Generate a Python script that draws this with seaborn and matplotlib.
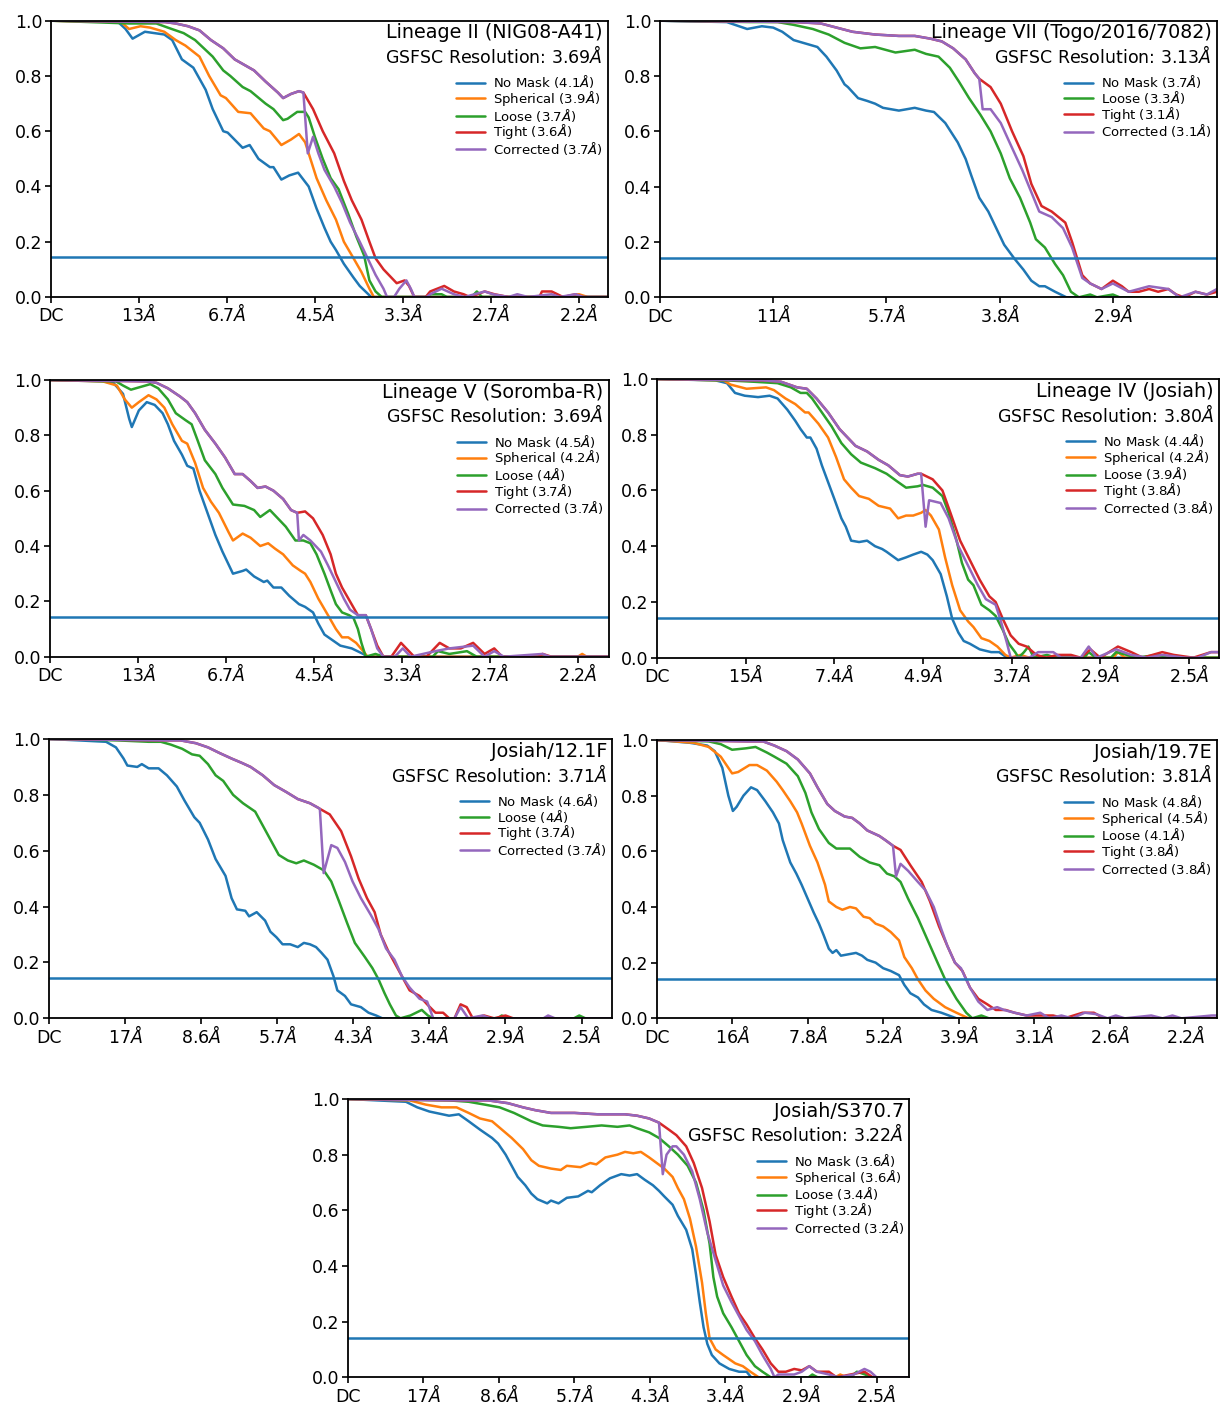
import matplotlib
matplotlib.use("Agg")
import matplotlib.pyplot as plt
import pandas as pd
import seaborn as sns

# FSC curves. x = position in tick steps from DC, y = FSC.

# ---- Lineage II (NIG08-A41) ----
p1_ticks = ["DC", "13", "6.7", "4.5", "3.3", "2.7", "2.2"]
p1_xmax = 6.33
p1_nomask = [(0, 1.0), (0.75, 1.0), (0.85, 0.97), (0.93, 0.935), (1.07, 0.96), (1.29, 0.95), (1.38, 0.93),
             (1.49, 0.86), (1.62, 0.83), (1.76, 0.75), (1.84, 0.68), (1.96, 0.60), (2.01, 0.595), (2.18, 0.54),
             (2.26, 0.55), (2.36, 0.50), (2.49, 0.47), (2.53, 0.47), (2.62, 0.425), (2.71, 0.44), (2.81, 0.45),
             (2.93, 0.40), (3.02, 0.32), (3.11, 0.25), (3.18, 0.20), (3.24, 0.17), (3.33, 0.12), (3.44, 0.07),
             (3.51, 0.04), (3.64, 0.0), (6.33, 0.0)]
p1_spherical = [(0, 1.0), (0.8, 0.995), (0.89, 0.97), (1.02, 0.98), (1.13, 0.975), (1.29, 0.96), (1.42, 0.93),
                (1.53, 0.91), (1.69, 0.87), (1.80, 0.80), (1.93, 0.73), (1.99, 0.72), (2.13, 0.67), (2.27, 0.665),
                (2.42, 0.61), (2.49, 0.60), (2.62, 0.55), (2.73, 0.57), (2.82, 0.59), (2.89, 0.56), (2.93, 0.52),
                (3.02, 0.43), (3.13, 0.35), (3.24, 0.28), (3.33, 0.20), (3.44, 0.14), (3.53, 0.09), (3.62, 0.03),
                (3.67, 0.0), (5.9, 0.0), (6.0, 0.01), (6.1, 0.0), (6.33, 0.0)]
p1_loose = [(0, 1.0), (0.89, 0.99), (1.2, 0.99), (1.33, 0.975), (1.51, 0.955), (1.64, 0.93), (1.84, 0.87),
            (1.96, 0.82), (2.04, 0.80), (2.18, 0.76), (2.27, 0.745), (2.44, 0.70), (2.53, 0.68), (2.64, 0.64),
            (2.69, 0.645), (2.8, 0.67), (2.89, 0.67), (2.93, 0.65), (3.0, 0.58), (3.09, 0.50), (3.18, 0.43),
            (3.27, 0.39), (3.38, 0.30), (3.47, 0.22), (3.56, 0.15), (3.62, 0.06), (3.69, 0.02), (3.76, 0.0),
            (4.25, 0.0), (4.32, 0.01), (4.44, 0.01), (4.5, 0.0), (4.78, 0.0), (4.84, 0.02), (4.9, 0.0), (6.33, 0.0)]
p1_top = [(0, 1.0), (1.3, 0.995), (1.42, 0.99), (1.56, 0.98), (1.69, 0.965), (1.82, 0.93), (1.96, 0.90),
          (2.09, 0.86), (2.2, 0.84), (2.31, 0.82), (2.44, 0.78), (2.58, 0.74), (2.64, 0.72), (2.73, 0.735),
          (2.82, 0.745), (2.87, 0.74)]
p1_tight = p1_top + [(2.98, 0.68), (3.09, 0.60), (3.22, 0.52), (3.33, 0.42), (3.42, 0.35), (3.53, 0.28),
                     (3.62, 0.20), (3.69, 0.14), (3.78, 0.10), (3.87, 0.07), (3.93, 0.05), (4.02, 0.06),
                     (4.07, 0.04), (4.13, 0.0), (4.26, 0.0), (4.31, 0.02), (4.47, 0.04), (4.58, 0.02), (4.69, 0.01),
                     (4.76, 0.0), (4.93, 0.02), (5.04, 0.01), (5.2, 0.0), (5.55, 0.0), (5.58, 0.02), (5.69, 0.02),
                     (5.82, 0.0), (5.96, 0.01), (6.05, 0.0), (6.33, 0.0)]
p1_corrected = p1_top + [(2.92, 0.52), (2.98, 0.58), (3.04, 0.52), (3.11, 0.46), (3.22, 0.40), (3.31, 0.34),
                         (3.4, 0.27), (3.51, 0.20), (3.6, 0.14), (3.69, 0.08), (3.78, 0.03), (3.82, 0.0),
                         (3.9, 0.0), (3.96, 0.03), (4.04, 0.06), (4.09, 0.03), (4.13, 0.0), (4.27, 0.0),
                         (4.31, 0.01), (4.44, 0.03), (4.58, 0.01), (4.7, 0.0), (4.93, 0.02), (5.02, 0.01),
                         (5.2, 0.0), (5.3, 0.01), (5.42, 0.0), (5.69, 0.01), (5.78, 0.0), (5.96, 0.01),
                         (6.05, 0.0), (6.33, 0.0)]

# ---- Lineage VII (Togo/2016/7082) ----
p2_ticks = ["DC", "11", "5.7", "3.8", "2.9"]
p2_xmax = 4.92
p2_nomask = [(0, 1.0), (0.59, 0.995), (0.77, 0.97), (0.9, 0.98), (1.0, 0.975), (1.08, 0.96), (1.18, 0.93),
             (1.39, 0.905), (1.47, 0.87), (1.56, 0.82), (1.63, 0.77), (1.66, 0.76), (1.75, 0.72), (1.83, 0.71),
             (1.9, 0.70), (1.97, 0.685), (2.11, 0.675), (2.18, 0.68), (2.25, 0.685), (2.35, 0.675), (2.42, 0.67),
             (2.52, 0.63), (2.63, 0.56), (2.7, 0.50), (2.75, 0.44), (2.82, 0.36), (2.9, 0.31), (2.97, 0.25),
             (3.04, 0.19), (3.13, 0.14), (3.21, 0.10), (3.28, 0.06), (3.35, 0.04), (3.4, 0.04), (3.49, 0.02),
             (3.59, 0.0), (4.92, 0.0)]
p2_loose = [(0, 1.0), (0.8, 0.995), (1.04, 0.995), (1.18, 0.985), (1.35, 0.97), (1.49, 0.95), (1.63, 0.92),
            (1.77, 0.90), (1.9, 0.905), (2.08, 0.885), (2.25, 0.895), (2.35, 0.88), (2.46, 0.87), (2.56, 0.83),
            (2.64, 0.78), (2.73, 0.72), (2.83, 0.66), (2.92, 0.60), (3.01, 0.52), (3.09, 0.43), (3.18, 0.36),
            (3.27, 0.27), (3.32, 0.21), (3.4, 0.18), (3.49, 0.12), (3.56, 0.08), (3.63, 0.02), (3.7, 0.0),
            (3.8, 0.01), (3.86, 0.0), (4.0, 0.01), (4.06, 0.0), (4.92, 0.0)]
p2_top = [(0, 1.0), (1.2, 0.995), (1.42, 0.99), (1.56, 0.975), (1.7, 0.96), (1.9, 0.95), (2.11, 0.945),
          (2.25, 0.945), (2.39, 0.935), (2.49, 0.925), (2.59, 0.90), (2.7, 0.86), (2.78, 0.81), (2.82, 0.79)]
p2_tight = p2_top + [(2.92, 0.76), (3.01, 0.70), (3.11, 0.60), (3.21, 0.51), (3.28, 0.41), (3.37, 0.33),
                     (3.46, 0.31), (3.58, 0.27), (3.64, 0.20), (3.73, 0.08), (3.8, 0.05), (3.9, 0.03), (4.0, 0.06),
                     (4.08, 0.04), (4.14, 0.02), (4.23, 0.02), (4.32, 0.03), (4.4, 0.02), (4.49, 0.03),
                     (4.56, 0.01), (4.63, 0.0), (4.73, 0.02), (4.83, 0.01), (4.92, 0.02)]
p2_corrected = p2_top + [(2.85, 0.68), (2.92, 0.68), (3.01, 0.63), (3.11, 0.54), (3.2, 0.46), (3.28, 0.38),
                         (3.35, 0.31), (3.46, 0.29), (3.56, 0.25), (3.64, 0.18), (3.73, 0.07), (3.8, 0.05),
                         (3.9, 0.03), (4.0, 0.05), (4.14, 0.02), (4.32, 0.04), (4.49, 0.03), (4.59, 0.0),
                         (4.73, 0.02), (4.83, 0.01), (4.92, 0.03)]

# ---- Lineage V (Soromba-R) ----
p3_ticks = ["DC", "13", "6.7", "4.5", "3.3", "2.7", "2.2"]
p3_xmax = 6.35
p3_nomask = [(0, 1.0), (0.6, 0.995), (0.72, 0.99), (0.83, 0.95), (0.9, 0.86), (0.93, 0.83), (1.01, 0.89),
             (1.1, 0.92), (1.19, 0.91), (1.28, 0.88), (1.34, 0.84), (1.41, 0.78), (1.5, 0.73), (1.56, 0.69),
             (1.63, 0.68), (1.7, 0.60), (1.79, 0.52), (1.88, 0.44), (1.96, 0.38), (2.08, 0.30), (2.19, 0.31),
             (2.23, 0.315), (2.32, 0.29), (2.43, 0.27), (2.47, 0.275), (2.54, 0.25), (2.63, 0.25), (2.72, 0.22),
             (2.83, 0.19), (2.9, 0.18), (2.99, 0.16), (3.05, 0.12), (3.12, 0.08), (3.21, 0.06), (3.3, 0.04),
             (3.43, 0.03), (3.56, 0.01), (3.61, 0.0), (6.35, 0.0)]
p3_spherical = [(0, 1.0), (0.6, 0.995), (0.76, 0.98), (0.85, 0.93), (0.93, 0.90), (1.01, 0.92), (1.12, 0.945),
                (1.21, 0.93), (1.3, 0.90), (1.39, 0.84), (1.5, 0.78), (1.56, 0.77), (1.65, 0.70), (1.74, 0.61),
                (1.83, 0.56), (1.92, 0.52), (2.03, 0.45), (2.08, 0.42), (2.19, 0.445), (2.28, 0.43), (2.39, 0.40),
                (2.48, 0.41), (2.56, 0.39), (2.65, 0.37), (2.76, 0.33), (2.85, 0.31), (2.9, 0.30), (2.96, 0.27),
                (3.05, 0.21), (3.16, 0.15), (3.25, 0.10), (3.32, 0.07), (3.39, 0.07), (3.48, 0.05), (3.56, 0.02),
                (3.61, 0.0), (6.0, 0.0), (6.05, 0.01), (6.1, 0.0), (6.35, 0.0)]
p3_loose = [(0, 1.0), (0.75, 0.995), (0.83, 0.98), (0.92, 0.965), (1.03, 0.975), (1.14, 0.985), (1.23, 0.97),
            (1.34, 0.93), (1.43, 0.88), (1.54, 0.855), (1.61, 0.84), (1.68, 0.78), (1.76, 0.71), (1.88, 0.66),
            (1.96, 0.61), (2.08, 0.55), (2.21, 0.545), (2.32, 0.53), (2.39, 0.505), (2.5, 0.53), (2.59, 0.50),
            (2.68, 0.47), (2.79, 0.42), (2.88, 0.42), (2.96, 0.41), (3.03, 0.37), (3.12, 0.30), (3.19, 0.24),
            (3.25, 0.19), (3.32, 0.16), (3.4, 0.15), (3.45, 0.14), (3.5, 0.10), (3.54, 0.05), (3.59, 0.0),
            (3.7, 0.01), (3.79, 0.0), (4.35, 0.0), (4.41, 0.02), (4.54, 0.01), (4.74, 0.02), (4.85, 0.0),
            (6.35, 0.0)]
p3_top = [(0, 1.0), (1.1, 0.995), (1.21, 0.99), (1.34, 0.97), (1.48, 0.94), (1.56, 0.92), (1.65, 0.88),
          (1.76, 0.82), (1.88, 0.77), (1.99, 0.72), (2.1, 0.66), (2.19, 0.66), (2.28, 0.635), (2.36, 0.61),
          (2.45, 0.615), (2.54, 0.60), (2.65, 0.57), (2.74, 0.53), (2.81, 0.52)]
p3_tight = p3_top + [(2.9, 0.525), (2.99, 0.50), (3.1, 0.44), (3.19, 0.37), (3.25, 0.30), (3.32, 0.25),
                     (3.41, 0.20), (3.5, 0.15), (3.59, 0.15), (3.65, 0.10), (3.72, 0.04), (3.79, 0.0), (3.88, 0.0),
                     (3.99, 0.05), (4.08, 0.02), (4.14, 0.0), (4.28, 0.0), (4.43, 0.05), (4.54, 0.03),
                     (4.67, 0.03), (4.81, 0.05), (4.94, 0.01), (5.05, 0.03), (5.14, 0.0), (5.55, 0.0),
                     (5.6, 0.01), (5.7, 0.0), (6.35, 0.0)]
p3_corrected = p3_top + [(2.83, 0.42), (2.88, 0.44), (2.96, 0.42), (3.08, 0.38), (3.16, 0.33), (3.25, 0.27),
                         (3.34, 0.21), (3.41, 0.17), (3.5, 0.15), (3.59, 0.15), (3.65, 0.10), (3.72, 0.03),
                         (3.79, 0.0), (3.92, 0.0), (4.01, 0.03), (4.1, 0.0), (4.38, 0.02), (4.54, 0.03),
                         (4.81, 0.04), (4.94, 0.0), (5.05, 0.02), (5.16, 0.0), (5.6, 0.01), (5.68, 0.0), (6.35, 0.0)]

# ---- Lineage IV (Josiah) ----
p4_ticks = ["DC", "15", "7.4", "4.9", "3.7", "2.9", "2.5"]
p4_xmax = 6.34
p4_nomask = [(0, 1.0), (0.66, 0.995), (0.79, 0.985), (0.88, 0.95), (0.99, 0.94), (1.14, 0.935), (1.27, 0.94),
             (1.36, 0.93), (1.47, 0.89), (1.56, 0.85), (1.62, 0.82), (1.69, 0.79), (1.73, 0.79), (1.8, 0.75),
             (1.86, 0.69), (1.93, 0.63), (2.0, 0.57), (2.08, 0.50), (2.13, 0.47), (2.19, 0.42), (2.28, 0.415),
             (2.37, 0.42), (2.46, 0.40), (2.54, 0.39), (2.59, 0.38), (2.72, 0.35), (2.81, 0.36), (2.89, 0.37),
             (2.98, 0.38), (3.05, 0.37), (3.11, 0.35), (3.2, 0.30), (3.27, 0.22), (3.33, 0.14), (3.4, 0.09),
             (3.46, 0.06), (3.53, 0.05), (3.64, 0.03), (3.77, 0.02), (3.86, 0.02), (3.95, 0.0), (6.34, 0.0)]
p4_spherical = [(0, 1.0), (0.75, 0.995), (0.83, 0.98), (1.01, 0.965), (1.23, 0.97), (1.32, 0.96), (1.45, 0.93),
                (1.56, 0.91), (1.67, 0.88), (1.71, 0.88), (1.82, 0.84), (1.93, 0.79), (2.02, 0.72), (2.11, 0.64),
                (2.19, 0.61), (2.28, 0.58), (2.39, 0.57), (2.5, 0.545), (2.63, 0.535), (2.72, 0.50), (2.81, 0.51),
                (2.89, 0.51), (2.98, 0.52), (3.03, 0.53), (3.09, 0.51), (3.18, 0.46), (3.25, 0.36), (3.33, 0.26),
                (3.42, 0.17), (3.51, 0.13), (3.57, 0.11), (3.66, 0.07), (3.75, 0.06), (3.84, 0.04), (3.93, 0.01),
                (3.99, 0.0), (4.1, 0.01), (4.2, 0.0), (5.15, 0.0), (5.2, 0.02), (5.28, 0.0), (6.34, 0.0)]
p4_loose = [(0, 1.0), (0.79, 0.995), (1.1, 0.99), (1.36, 0.985), (1.51, 0.97), (1.62, 0.95), (1.69, 0.95),
            (1.75, 0.93), (1.86, 0.88), (1.97, 0.83), (2.08, 0.77), (2.19, 0.73), (2.3, 0.70), (2.46, 0.68),
            (2.59, 0.66), (2.72, 0.63), (2.81, 0.61), (2.94, 0.615), (3.0, 0.62), (3.11, 0.61), (3.22, 0.58),
            (3.29, 0.52), (3.38, 0.42), (3.44, 0.34), (3.51, 0.28), (3.57, 0.26), (3.66, 0.19), (3.75, 0.17),
            (3.82, 0.15), (3.9, 0.10), (3.97, 0.05), (4.04, 0.02), (4.08, 0.0), (4.14, 0.02), (4.19, 0.04),
            (4.25, 0.0), (4.4, 0.01), (4.5, 0.0), (4.82, 0.0), (4.87, 0.02), (4.95, 0.0), (5.12, 0.0),
            (5.18, 0.02), (5.3, 0.01), (5.4, 0.0), (5.65, 0.01), (5.75, 0.0), (6.34, 0.0)]
p4_top = [(0, 1.0), (1.2, 0.995), (1.4, 0.99), (1.58, 0.97), (1.69, 0.965), (1.8, 0.93), (1.93, 0.88),
          (2.06, 0.82), (2.15, 0.79), (2.24, 0.76), (2.37, 0.74), (2.5, 0.71), (2.61, 0.69), (2.74, 0.655),
          (2.83, 0.65), (2.94, 0.66), (2.98, 0.66)]
p4_tight = p4_top + [(3.11, 0.64), (3.22, 0.60), (3.31, 0.52), (3.42, 0.42), (3.53, 0.35), (3.64, 0.28),
                     (3.75, 0.22), (3.82, 0.20), (3.9, 0.14), (3.99, 0.08), (4.08, 0.05), (4.17, 0.04),
                     (4.28, 0.01), (4.39, 0.0), (4.52, 0.01), (4.67, 0.01), (4.78, 0.0), (4.89, 0.03), (5.0, 0.0),
                     (5.2, 0.04), (5.35, 0.02), (5.48, 0.0), (5.7, 0.02), (5.83, 0.01), (6.05, 0.0), (6.25, 0.02),
                     (6.34, 0.02)]
p4_corrected = p4_top + [(3.03, 0.47), (3.07, 0.565), (3.2, 0.555), (3.29, 0.50), (3.4, 0.40), (3.51, 0.33),
                         (3.62, 0.26), (3.71, 0.21), (3.82, 0.19), (3.88, 0.13), (3.95, 0.05), (3.99, 0.0),
                         (4.2, 0.0), (4.3, 0.02), (4.47, 0.02), (4.56, 0.0), (4.78, 0.0), (4.87, 0.04), (4.96, 0.0),
                         (5.18, 0.03), (5.35, 0.01), (5.53, 0.0), (5.7, 0.01), (5.96, 0.0), (6.1, 0.0),
                         (6.25, 0.02), (6.34, 0.02)]

# ---- Josiah/12.1F ----
p5_ticks = ["DC", "17", "8.6", "5.7", "4.3", "3.4", "2.9", "2.5"]
p5_xmax = 7.40
p5_nomask = [(0, 1.0), (0.39, 0.995), (0.75, 0.99), (0.88, 0.97), (0.98, 0.93), (1.03, 0.905), (1.16, 0.90),
             (1.22, 0.91), (1.31, 0.895), (1.44, 0.895), (1.55, 0.87), (1.68, 0.83), (1.78, 0.78), (1.91, 0.72),
             (1.98, 0.70), (2.09, 0.64), (2.19, 0.57), (2.32, 0.51), (2.4, 0.43), (2.47, 0.39), (2.58, 0.385),
             (2.63, 0.365), (2.73, 0.38), (2.84, 0.35), (2.91, 0.31), (2.99, 0.29), (3.07, 0.265), (3.17, 0.265),
             (3.27, 0.255), (3.35, 0.27), (3.43, 0.265), (3.51, 0.255), (3.58, 0.235), (3.66, 0.21), (3.74, 0.15),
             (3.79, 0.10), (3.89, 0.08), (3.97, 0.05), (4.1, 0.04), (4.2, 0.02), (4.3, 0.01), (4.38, 0.0),
             (7.4, 0.0)]
p5_loose = [(0, 1.0), (0.9, 0.995), (1.31, 0.99), (1.47, 0.99), (1.6, 0.98), (1.75, 0.965), (1.88, 0.945),
            (1.98, 0.94), (2.09, 0.91), (2.19, 0.87), (2.29, 0.85), (2.42, 0.80), (2.55, 0.77), (2.71, 0.74),
            (2.81, 0.69), (2.91, 0.64), (3.02, 0.585), (3.14, 0.565), (3.25, 0.555), (3.35, 0.565), (3.48, 0.55),
            (3.61, 0.53), (3.71, 0.49), (3.81, 0.42), (3.92, 0.34), (4.02, 0.27), (4.15, 0.22), (4.25, 0.18),
            (4.33, 0.14), (4.41, 0.09), (4.48, 0.05), (4.56, 0.01), (4.62, 0.0), (4.75, 0.01), (4.9, 0.03),
            (4.98, 0.01), (5.05, 0.0), (5.9, 0.0), (5.95, 0.01), (6.05, 0.0), (6.9, 0.0), (6.97, 0.01),
            (7.05, 0.0), (7.4, 0.0)]
p5_top = [(0, 1.0), (1.5, 0.995), (1.73, 0.995), (1.93, 0.985), (2.09, 0.97), (2.24, 0.95), (2.4, 0.93),
          (2.53, 0.915), (2.65, 0.90), (2.81, 0.87), (2.96, 0.835), (3.12, 0.81), (3.27, 0.785), (3.43, 0.77),
          (3.53, 0.755), (3.56, 0.75)]
p5_tight = p5_top + [(3.69, 0.73), (3.84, 0.67), (3.97, 0.58), (4.07, 0.50), (4.18, 0.43), (4.28, 0.38),
                     (4.36, 0.30), (4.46, 0.24), (4.56, 0.19), (4.64, 0.15), (4.74, 0.10), (4.87, 0.08),
                     (4.97, 0.05), (5.08, 0.02), (5.18, 0.02), (5.26, 0.0), (5.33, 0.0), (5.41, 0.05),
                     (5.49, 0.04), (5.57, 0.0), (5.72, 0.01), (5.85, 0.0), (6.0, 0.01), (6.1, 0.0), (7.4, 0.0)]
p5_corrected = p5_top + [(3.61, 0.52), (3.71, 0.62), (3.79, 0.61), (3.89, 0.56), (3.99, 0.49), (4.1, 0.43),
                         (4.23, 0.37), (4.33, 0.32), (4.43, 0.25), (4.54, 0.21), (4.64, 0.15), (4.74, 0.11),
                         (4.87, 0.07), (4.97, 0.06), (5.05, 0.0), (5.33, 0.0), (5.41, 0.04), (5.51, 0.0),
                         (5.7, 0.01), (5.8, 0.0), (6.5, 0.0), (6.56, 0.01), (6.65, 0.0), (7.4, 0.0)]

# ---- Josiah/19.7E ----
p6_ticks = ["DC", "16", "7.8", "5.2", "3.9", "3.1", "2.6", "2.2"]
p6_xmax = 7.42
p6_nomask = [(0, 1.0), (0.44, 0.99), (0.67, 0.98), (0.77, 0.96), (0.87, 0.90), (0.95, 0.80), (1.01, 0.745),
             (1.06, 0.76), (1.15, 0.80), (1.25, 0.83), (1.33, 0.82), (1.44, 0.78), (1.54, 0.74), (1.62, 0.70),
             (1.67, 0.64), (1.72, 0.60), (1.77, 0.56), (1.85, 0.52), (1.92, 0.48), (2.0, 0.43), (2.08, 0.38),
             (2.15, 0.34), (2.21, 0.30), (2.28, 0.25), (2.33, 0.235), (2.38, 0.245), (2.44, 0.225), (2.54, 0.23),
             (2.64, 0.235), (2.72, 0.225), (2.79, 0.21), (2.9, 0.20), (3.0, 0.18), (3.1, 0.17), (3.21, 0.155),
             (3.28, 0.12), (3.36, 0.09), (3.46, 0.075), (3.54, 0.05), (3.64, 0.03), (3.77, 0.02), (3.87, 0.01),
             (3.97, 0.0), (7.42, 0.0)]
p6_spherical = [(0, 1.0), (0.49, 0.99), (0.69, 0.975), (0.85, 0.94), (1.0, 0.88), (1.08, 0.885), (1.23, 0.91),
                (1.33, 0.91), (1.46, 0.89), (1.59, 0.85), (1.67, 0.82), (1.77, 0.78), (1.86, 0.74), (1.92, 0.70),
                (2.03, 0.62), (2.13, 0.56), (2.23, 0.48), (2.28, 0.42), (2.38, 0.40), (2.46, 0.39), (2.56, 0.40),
                (2.64, 0.395), (2.74, 0.365), (2.82, 0.36), (2.9, 0.34), (3.0, 0.33), (3.1, 0.31), (3.21, 0.28),
                (3.28, 0.22), (3.38, 0.18), (3.46, 0.14), (3.56, 0.10), (3.67, 0.07), (3.82, 0.04), (3.97, 0.02),
                (4.13, 0.0), (7.42, 0.0)]
p6_loose = [(0, 1.0), (0.69, 0.995), (0.85, 0.985), (1.0, 0.965), (1.18, 0.97), (1.31, 0.975), (1.46, 0.955),
            (1.56, 0.94), (1.72, 0.915), (1.87, 0.87), (1.97, 0.81), (2.05, 0.74), (2.15, 0.68), (2.28, 0.63),
            (2.38, 0.61), (2.56, 0.61), (2.69, 0.58), (2.82, 0.56), (2.95, 0.55), (3.05, 0.52), (3.15, 0.51),
            (3.23, 0.49), (3.33, 0.43), (3.46, 0.36), (3.59, 0.28), (3.72, 0.20), (3.82, 0.14), (3.97, 0.07),
            (4.1, 0.02), (4.18, 0.0), (4.3, 0.01), (4.4, 0.0), (7.42, 0.0)]
p6_top = [(0, 1.0), (1.2, 0.995), (1.41, 0.995), (1.56, 0.98), (1.72, 0.96), (1.87, 0.93), (2.03, 0.88),
          (2.13, 0.83), (2.26, 0.77), (2.36, 0.745), (2.49, 0.725), (2.59, 0.72), (2.69, 0.70), (2.79, 0.675),
          (2.95, 0.655), (3.03, 0.64), (3.13, 0.62)]
p6_tight = p6_top + [(3.23, 0.605), (3.36, 0.55), (3.51, 0.49), (3.62, 0.42), (3.74, 0.33), (3.85, 0.26),
                     (3.95, 0.20), (4.05, 0.17), (4.15, 0.11), (4.26, 0.07), (4.38, 0.05), (4.49, 0.03),
                     (4.62, 0.03), (4.74, 0.02), (4.9, 0.01), (5.05, 0.01), (5.25, 0.01), (5.4, 0.0),
                     (5.64, 0.02), (5.79, 0.02), (5.92, 0.0), (7.42, 0.0)]
p6_corrected = p6_top + [(3.17, 0.51), (3.23, 0.555), (3.33, 0.53), (3.46, 0.49), (3.56, 0.46), (3.67, 0.40),
                         (3.77, 0.32), (3.85, 0.26), (3.95, 0.20), (4.03, 0.18), (4.15, 0.11), (4.26, 0.06),
                         (4.38, 0.03), (4.51, 0.04), (4.6, 0.03), (4.74, 0.02), (4.9, 0.01), (5.08, 0.02),
                         (5.2, 0.0), (5.36, 0.01), (5.5, 0.0), (5.67, 0.02), (5.82, 0.015), (5.97, 0.0),
                         (6.08, 0.01), (6.2, 0.0), (6.55, 0.01), (6.7, 0.0), (6.83, 0.01), (6.95, 0.0),
                         (7.35, 0.01), (7.42, 0.01)]

# ---- Josiah/S370.7 ----
p7_ticks = ["DC", "17", "8.6", "5.7", "4.3", "3.4", "2.9", "2.5"]
p7_xmax = 7.43
p7_nomask = [(0, 1.0), (0.77, 0.99), (0.92, 0.97), (1.08, 0.955), (1.34, 0.94), (1.47, 0.945), (1.6, 0.92),
             (1.75, 0.89), (1.91, 0.86), (1.99, 0.84), (2.09, 0.80), (2.17, 0.76), (2.25, 0.72), (2.35, 0.69),
             (2.43, 0.66), (2.51, 0.64), (2.64, 0.625), (2.69, 0.635), (2.79, 0.625), (2.9, 0.645), (3.05, 0.65),
             (3.18, 0.67), (3.23, 0.665), (3.34, 0.69), (3.47, 0.715), (3.62, 0.73), (3.73, 0.725), (3.83, 0.73),
             (3.93, 0.71), (4.04, 0.69), (4.12, 0.67), (4.19, 0.65), (4.3, 0.62), (4.37, 0.58), (4.48, 0.53),
             (4.56, 0.46), (4.61, 0.37), (4.66, 0.27), (4.71, 0.18), (4.76, 0.12), (4.82, 0.08), (4.92, 0.05),
             (5.05, 0.03), (5.18, 0.02), (5.28, 0.02), (5.34, 0.0), (7.43, 0.0)]
p7_spherical = [(0, 1.0), (0.82, 0.995), (1.03, 0.98), (1.24, 0.97), (1.44, 0.97), (1.6, 0.95), (1.75, 0.93),
                (1.91, 0.92), (2.04, 0.89), (2.17, 0.86), (2.32, 0.82), (2.43, 0.78), (2.53, 0.76), (2.69, 0.75),
                (2.82, 0.745), (2.9, 0.76), (3.08, 0.755), (3.21, 0.77), (3.29, 0.765), (3.41, 0.79), (3.57, 0.80),
                (3.67, 0.81), (3.78, 0.805), (3.88, 0.81), (3.99, 0.79), (4.09, 0.77), (4.19, 0.75), (4.3, 0.72),
                (4.37, 0.68), (4.45, 0.64), (4.53, 0.57), (4.61, 0.47), (4.69, 0.34), (4.74, 0.23), (4.79, 0.14),
                (4.87, 0.10), (4.97, 0.08), (5.13, 0.05), (5.23, 0.04), (5.33, 0.02), (5.44, 0.0), (6.45, 0.0),
                (6.52, 0.01), (6.6, 0.0), (7.43, 0.0)]
p7_loose = [(0, 1.0), (1.34, 0.995), (1.6, 0.99), (1.81, 0.98), (2.01, 0.97), (2.2, 0.95), (2.43, 0.92),
            (2.58, 0.905), (2.79, 0.90), (2.95, 0.895), (3.16, 0.90), (3.36, 0.905), (3.57, 0.90), (3.73, 0.905),
            (3.83, 0.895), (3.99, 0.88), (4.12, 0.86), (4.25, 0.83), (4.37, 0.80), (4.5, 0.76), (4.61, 0.70),
            (4.71, 0.60), (4.79, 0.48), (4.84, 0.36), (4.89, 0.29), (4.97, 0.23), (5.08, 0.18), (5.18, 0.13),
            (5.28, 0.08), (5.39, 0.04), (5.49, 0.02), (5.6, 0.0), (6.1, 0.0), (6.15, 0.01), (6.22, 0.0),
            (6.65, 0.0), (6.74, 0.02), (6.85, 0.01), (6.92, 0.0), (7.43, 0.0)]
p7_top = [(0, 1.0), (1.5, 0.995), (1.86, 0.995), (2.12, 0.985), (2.32, 0.97), (2.48, 0.96), (2.69, 0.95),
          (3.0, 0.95), (3.31, 0.945), (3.67, 0.945), (3.83, 0.94), (3.99, 0.93), (4.12, 0.915)]
p7_tight = p7_top + [(4.25, 0.89), (4.35, 0.87), (4.48, 0.83), (4.58, 0.77), (4.69, 0.68), (4.79, 0.56),
                     (4.87, 0.44), (4.97, 0.36), (5.08, 0.29), (5.18, 0.23), (5.28, 0.19), (5.39, 0.14),
                     (5.49, 0.10), (5.6, 0.05), (5.7, 0.02), (5.8, 0.02), (5.91, 0.03), (6.01, 0.025),
                     (6.11, 0.04), (6.21, 0.02), (6.37, 0.02), (6.47, 0.0), (6.84, 0.02), (6.95, 0.0), (7.43, 0.0)]
p7_corrected = p7_top + [(4.17, 0.73), (4.22, 0.80), (4.3, 0.83), (4.35, 0.83), (4.45, 0.80), (4.56, 0.74),
                         (4.66, 0.64), (4.76, 0.52), (4.87, 0.42), (4.97, 0.33), (5.08, 0.27), (5.18, 0.22),
                         (5.28, 0.17), (5.39, 0.13), (5.49, 0.08), (5.6, 0.03), (5.65, 0.0), (5.7, 0.01),
                         (5.91, 0.01), (6.01, 0.02), (6.11, 0.04), (6.21, 0.02), (6.37, 0.01), (6.5, 0.0),
                         (6.7, 0.01), (6.84, 0.03), (6.92, 0.02), (7.0, 0.0), (7.43, 0.0)]

ANG = r"$\AA$"
W, H = 1220, 1404

sns.set_style("ticks")
plt.rcParams["font.family"] = ["DejaVu Sans"]
plt.rcParams["mathtext.fontset"] = "dejavusans"
for k in ["text.color", "axes.labelcolor", "xtick.color", "ytick.color", "axes.edgecolor"]:
    plt.rcParams[k] = "black"
pal = sns.color_palette("tab10")

# (left, right, top, bottom) in pixels, title, resolution, ticks, xmax, curves
panels = [
    ((50.7, 608, 20.7, 297), "Lineage II (NIG08-A41)", "3.69", p1_ticks, p1_xmax,
     [("No Mask", "4.1", p1_nomask, 0), ("Spherical", "3.9", p1_spherical, 1), ("Loose", "3.7", p1_loose, 2),
      ("Tight", "3.6", p1_tight, 3), ("Corrected", "3.7", p1_corrected, 4)]),
    ((660, 1217, 20.7, 297.3), "Lineage VII (Togo/2016/7082)", "3.13", p2_ticks, p2_xmax,
     [("No Mask", "3.7", p2_nomask, 0), ("Loose", "3.3", p2_loose, 2),
      ("Tight", "3.1", p2_tight, 3), ("Corrected", "3.1", p2_corrected, 4)]),
    ((50, 608.6, 380, 656.7), "Lineage V (Soromba-R)", "3.69", p3_ticks, p3_xmax,
     [("No Mask", "4.5", p3_nomask, 0), ("Spherical", "4.2", p3_spherical, 1), ("Loose", "4", p3_loose, 2),
      ("Tight", "3.7", p3_tight, 3), ("Corrected", "3.7", p3_corrected, 4)]),
    ((657, 1219, 379, 657.7), "Lineage IV (Josiah)", "3.80", p4_ticks, p4_xmax,
     [("No Mask", "4.4", p4_nomask, 0), ("Spherical", "4.2", p4_spherical, 1), ("Loose", "3.9", p4_loose, 2),
      ("Tight", "3.8", p4_tight, 3), ("Corrected", "3.8", p4_corrected, 4)]),
    ((49, 612, 739, 1018.3), "Josiah/12.1F", "3.71", p5_ticks, p5_xmax,
     [("No Mask", "4.6", p5_nomask, 0), ("Loose", "4", p5_loose, 2),
      ("Tight", "3.7", p5_tight, 3), ("Corrected", "3.7", p5_corrected, 4)]),
    ((656.6, 1217, 740, 1018.3), "Josiah/19.7E", "3.81", p6_ticks, p6_xmax,
     [("No Mask", "4.8", p6_nomask, 0), ("Spherical", "4.5", p6_spherical, 1), ("Loose", "4.1", p6_loose, 2),
      ("Tight", "3.8", p6_tight, 3), ("Corrected", "3.8", p6_corrected, 4)]),
    ((347.8, 909, 1099, 1377.3), "Josiah/S370.7", "3.22", p7_ticks, p7_xmax,
     [("No Mask", "3.6", p7_nomask, 0), ("Spherical", "3.6", p7_spherical, 1), ("Loose", "3.4", p7_loose, 2),
      ("Tight", "3.2", p7_tight, 3), ("Corrected", "3.2", p7_corrected, 4)]),
]

fig = plt.figure(figsize=(W / 100, H / 100), dpi=100)
fig.patch.set_facecolor("white")

for (l, r, t, b), title, res, ticks, xmax, curves in panels:
    ax = fig.add_axes([l / W, 1 - b / H, (r - l) / W, (b - t) / H])
    for name, rr, pts, ci in curves:
        df = pd.DataFrame(pts, columns=["shell", "fsc"])
        sns.lineplot(data=df, x="shell", y="fsc", ax=ax, color=pal[ci], lw=1.8,
                     sort=False, estimator=None, label=f"{name} ({rr}{ANG})")
    ax.axhline(0.143, color=pal[0], lw=1.8)
    ax.set_xlim(0, xmax)
    ax.set_ylim(0, 1)
    ax.set_xticks(range(len(ticks)))
    # baseline alignment keeps "DC" level with the labels that carry a math Å
    ax.set_xticklabels([ticks[0]] + [f"{v}{ANG}" for v in ticks[1:]], va="baseline")
    ax.set_yticks([0, 0.2, 0.4, 0.6, 0.8, 1.0])
    ax.set_yticklabels(["0.0", "0.2", "0.4", "0.6", "0.8", "1.0"])
    ax.tick_params(labelsize=12.5, width=1.2, length=4, pad=2)
    ax.tick_params(axis="x", pad=13.5)
    ax.set_xlabel("")
    ax.set_ylabel("")
    for s in ax.spines.values():
        s.set_linewidth(1.3)
        s.set_color("black")
    ax.text(0.991, 0.99, title, transform=ax.transAxes, ha="right", va="top", fontsize=13.8)
    ax.text(0.991, 0.912, f"GSFSC Resolution: {res}{ANG}", transform=ax.transAxes,
            ha="right", va="top", fontsize=12.5)
    ax.legend(loc="upper right", bbox_to_anchor=(0.991, 0.81), frameon=False, fontsize=9.5,
              borderpad=0, borderaxespad=0, handlelength=2.2, handletextpad=0.6, labelspacing=-0.1)

fig.savefig("out.png", dpi=100)
